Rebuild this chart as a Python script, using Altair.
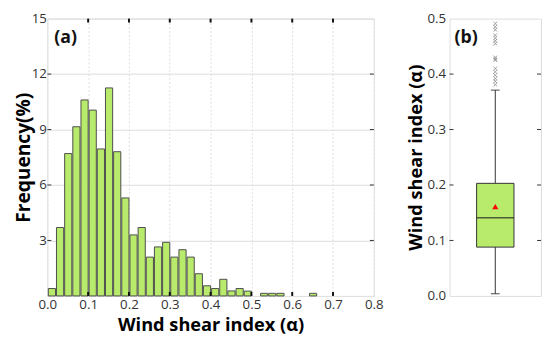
import altair as alt
import pandas as pd

# ---------------- data ----------------
bin_starts = [0.00, 0.02, 0.04, 0.06, 0.08, 0.10, 0.12, 0.14, 0.16, 0.18,
              0.20, 0.22, 0.24, 0.26, 0.28, 0.30, 0.32, 0.34, 0.36, 0.38,
              0.40, 0.42, 0.44, 0.46, 0.48, 0.52, 0.54, 0.56, 0.64]
frequency = [0.40, 3.70, 7.70, 9.15, 10.60, 10.05, 7.95, 11.25, 7.80, 5.30,
             3.30, 3.70, 2.10, 2.65, 2.90, 2.10, 2.50, 2.10, 1.20, 0.55,
             0.40, 0.90, 0.27, 0.40, 0.26, 0.14, 0.14, 0.14, 0.14]
bin_width = 0.02

x_ticks = [0.0, 0.1, 0.2, 0.3, 0.4, 0.5, 0.6, 0.7, 0.8]
y_ticks_a = [3, 6, 9, 12, 15]
y_ticks_b = [0.0, 0.1, 0.2, 0.3, 0.4, 0.5]

box_q1 = 0.088
box_median = 0.141
box_q3 = 0.203
box_mean = 0.161
whisker_low = 0.004
whisker_high = 0.371
outliers = [0.381, 0.387, 0.392, 0.398, 0.404, 0.410, 0.425, 0.427, 0.430,
            0.455, 0.460, 0.465, 0.470, 0.480, 0.485, 0.491]

GREEN = "#b8ea6c"
FRAME = "#6e6e6e"
FONT = "Open Sans"
W_A, H = 332, 282
W_B = 93
LABEL_SIZE = 13.5

hist_df = pd.DataFrame({"start": bin_starts, "freq": frequency})
hist_df["end"] = hist_df["start"] + bin_width

# ---------------- panel (a) ----------------
xscale = alt.Scale(domain=[0, 0.8], nice=False, zero=False)
yscale_a = alt.Scale(domain=[0, 15], nice=False)

bars = alt.Chart(hist_df).mark_bar(
    fill=GREEN, stroke="#4d4d4d", strokeWidth=1, binSpacing=1
).encode(
    x=alt.X("start:Q", bin=alt.Bin(binned=True, step=bin_width), scale=xscale,
            axis=alt.Axis(values=x_ticks, format=".1f", title="Wind shear index (α)",
                          grid=True, gridColor="#dddddd", gridDash=[2, 2],
                          ticks=False, domain=False, labelFontSize=LABEL_SIZE,
                          labelColor="#333333", labelFont=FONT, labelPadding=2,
                          titleFont=FONT, titleFontSize=18.5,
                          titleFontWeight="bold", titlePadding=5, labelFlush=False)),
    x2="end:Q",
    y=alt.Y("freq:Q", scale=yscale_a,
            axis=alt.Axis(values=y_ticks_a, title="Frequency(%)", grid=True,
                          gridColor="#dddddd", ticks=False, domain=False,
                          labelFontSize=LABEL_SIZE, labelColor="#333333",
                          labelFont=FONT, labelPadding=1, titleFont=FONT,
                          titleFontSize=19.5, titleFontWeight="bold",
                          titlePadding=-2)),
)

xt_df = pd.DataFrame({"v": x_ticks[1:-1]})
ticks_bottom = alt.Chart(xt_df).mark_rule(color="#111111", strokeWidth=2).encode(
    x=alt.X("v:Q", scale=xscale), y=alt.value(H), y2=alt.value(H - 4))
ticks_top = alt.Chart(xt_df).mark_rule(color="#111111", strokeWidth=2).encode(
    x=alt.X("v:Q", scale=xscale), y=alt.value(0), y2=alt.value(4))

yt_df = pd.DataFrame({"v": y_ticks_a[:-1]})
ticks_left = alt.Chart(yt_df).mark_rule(color="#333333", strokeWidth=1).encode(
    y=alt.Y("v:Q", scale=yscale_a), x=alt.value(0), x2=alt.value(4))
ticks_right = alt.Chart(yt_df).mark_rule(color="#333333", strokeWidth=1).encode(
    y=alt.Y("v:Q", scale=yscale_a), x=alt.value(W_A), x2=alt.value(W_A - 4))

label_a = alt.Chart(pd.DataFrame({"t": ["(a)"]})).mark_text(
    font=FONT, fontSize=18, fontWeight="bold", align="left", baseline="middle",
    color="#111111"
).encode(text="t:N", x=alt.value(7), y=alt.value(20))

panel_a = alt.layer(bars, ticks_bottom, ticks_top, ticks_left, ticks_right,
                    label_a).properties(width=W_A, height=H)

# ---------------- panel (b) ----------------
yscale_b = alt.Scale(domain=[0, 0.5], nice=False)
bxscale = alt.Scale(domain=[0, 2])

stats_df = pd.DataFrame({
    "pos": [1], "q1": [box_q1], "median": [box_median], "q3": [box_q3],
    "mean": [box_mean], "lo": [whisker_low], "hi": [whisker_high]})
out_df = pd.DataFrame({"pos": [1] * len(outliers), "v": outliers})

yaxis_b = alt.Axis(values=y_ticks_b, format=".1f", title="Wind shear index (α)",
                   grid=False, ticks=False, domain=False, labelFontSize=LABEL_SIZE,
                   labelColor="#333333", labelFont=FONT, labelPadding=4,
                   titleFont=FONT, titleFontSize=18.5, titleFontWeight="bold",
                   titlePadding=2)
xb = alt.X("pos:Q", scale=bxscale, axis=None)

whisk = alt.Chart(stats_df).mark_rule(color="#333333", strokeWidth=1).encode(
    x=xb, y=alt.Y("lo:Q", scale=yscale_b, axis=yaxis_b), y2="hi:Q")
box = alt.Chart(stats_df).mark_bar(size=38, fill=GREEN, stroke="#333333",
                                   strokeWidth=1).encode(
    x=xb, y=alt.Y("q1:Q", scale=yscale_b), y2="q3:Q")
med = alt.Chart(stats_df).mark_tick(size=38, color="#222222", thickness=1.5,
                                    orient="horizontal").encode(
    x=xb, y=alt.Y("median:Q", scale=yscale_b))
cap_lo = alt.Chart(stats_df).mark_tick(size=9, color="#222222", thickness=1.2,
                                       orient="horizontal").encode(
    x=xb, y=alt.Y("lo:Q", scale=yscale_b))
cap_hi = alt.Chart(stats_df).mark_tick(size=9, color="#222222", thickness=1.2,
                                       orient="horizontal").encode(
    x=xb, y=alt.Y("hi:Q", scale=yscale_b))
mean_pt = alt.Chart(stats_df).mark_point(shape="triangle-up", filled=True,
                                         color="#ff0000", size=40, opacity=1).encode(
    x=xb, y=alt.Y("mean:Q", scale=yscale_b))
outs = alt.Chart(out_df).mark_point(
    shape="M -1 -1 L 1 1 M -1 1 L 1 -1", filled=False, color="#8a8a8a",
    size=14, strokeWidth=0.8, opacity=1
).encode(x=xb, y=alt.Y("v:Q", scale=yscale_b))

ybt_df = pd.DataFrame({"v": y_ticks_b[1:-1]})
bticks_left = alt.Chart(ybt_df).mark_rule(color="#333333", strokeWidth=1).encode(
    y=alt.Y("v:Q", scale=yscale_b), x=alt.value(0), x2=alt.value(4))
bticks_right = alt.Chart(ybt_df).mark_rule(color="#333333", strokeWidth=1).encode(
    y=alt.Y("v:Q", scale=yscale_b), x=alt.value(W_B), x2=alt.value(W_B - 4))

label_b = alt.Chart(pd.DataFrame({"t": ["(b)"]})).mark_text(
    font=FONT, fontSize=18, fontWeight="bold", align="left", baseline="middle",
    color="#111111"
).encode(text="t:N", x=alt.value(5), y=alt.value(20))

panel_b = alt.layer(whisk, box, med, cap_lo, cap_hi, outs, mean_pt,
                    bticks_left, bticks_right, label_b).properties(width=W_B, height=H)

chart = alt.hconcat(panel_a, panel_b, spacing=22).properties(
    padding={"left": 5, "top": 0, "right": 0, "bottom": 0}
).configure_view(stroke=FRAME, strokeWidth=1.2).configure(background="white")

chart.save("out.html", embed_options={"renderer": "svg", "actions": False})
